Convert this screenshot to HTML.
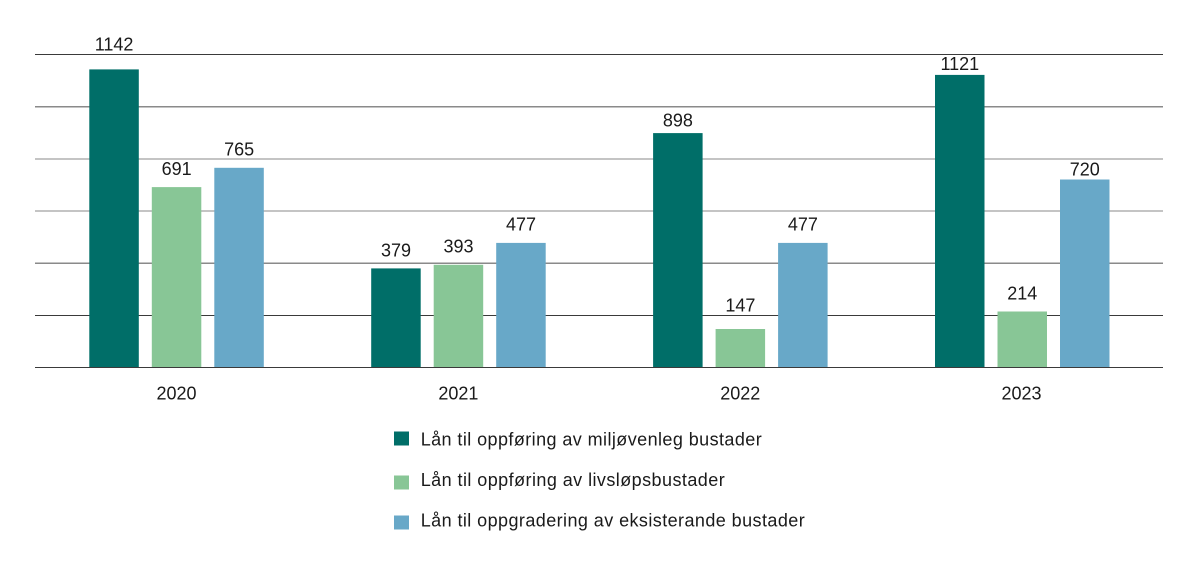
<!DOCTYPE html>
<html>
<head>
<meta charset="utf-8">
<style>
  html, body { margin: 0; padding: 0; background: #ffffff; }
  svg { display: block; }
  text { font-family: "Liberation Sans", "DejaVu Sans", sans-serif; fill: #1a1a1a; }
</style>
</head>
<body>
<svg width="1198" height="568" viewBox="0 0 1198 568" xmlns="http://www.w3.org/2000/svg">
  <rect x="0" y="0" width="1198" height="568" fill="#ffffff"/>
  <!-- gridlines -->
  <g stroke-width="1.2" shape-rendering="crispEdges">
    <line x1="35" y1="54.5" x2="1163" y2="54.5" stroke="#3a3a3a"/>
    <line x1="35" y1="106.7" x2="1163" y2="106.7" stroke="#8a8a8a"/>
    <line x1="35" y1="158.9" x2="1163" y2="158.9" stroke="#8a8a8a"/>
    <line x1="35" y1="211.1" x2="1163" y2="211.1" stroke="#8a8a8a"/>
    <line x1="35" y1="263.3" x2="1163" y2="263.3" stroke="#8a8a8a"/>
    <line x1="35" y1="315.5" x2="1163" y2="315.5" stroke="#3a3a3a"/>
  </g>

  <!-- bars 2020 -->
  <rect x="89.3" y="69.4" width="49.5" height="297.9" fill="#006e68"/>
  <rect x="151.8" y="187.1" width="49.5" height="180.2" fill="#88c696"/>
  <rect x="214.3" y="167.8" width="49.5" height="199.5" fill="#68a8c8"/>
  <!-- bars 2021 -->
  <rect x="371.2" y="268.4" width="49.5" height="98.9" fill="#006e68"/>
  <rect x="433.7" y="264.8" width="49.5" height="102.5" fill="#88c696"/>
  <rect x="496.2" y="242.9" width="49.5" height="124.4" fill="#68a8c8"/>
  <!-- bars 2022 -->
  <rect x="653.1" y="133.1" width="49.5" height="234.2" fill="#006e68"/>
  <rect x="715.6" y="329.0" width="49.5" height="38.3" fill="#88c696"/>
  <rect x="778.1" y="242.9" width="49.5" height="124.4" fill="#68a8c8"/>
  <!-- bars 2023 -->
  <rect x="935.0" y="74.9" width="49.5" height="292.4" fill="#006e68"/>
  <rect x="997.5" y="311.5" width="49.5" height="55.8" fill="#88c696"/>
  <rect x="1060.0" y="179.5" width="49.5" height="187.8" fill="#68a8c8"/>

  <!-- baseline -->
  <line x1="35" y1="367.5" x2="1163" y2="367.5" stroke="#3a3a3a" stroke-width="1.2" shape-rendering="crispEdges"/>

  <!-- value labels -->
  <g font-size="18" text-anchor="middle">
    <text x="114.1" y="50.7">1142</text>
    <text x="176.6" y="175">691</text>
    <text x="239.1" y="155.7">765</text>
    <text x="396.0" y="256.7">379</text>
    <text x="458.5" y="252.7">393</text>
    <text x="521.0" y="230.7">477</text>
    <text x="677.9" y="126.7">898</text>
    <text x="740.4" y="311.7">147</text>
    <text x="802.9" y="230.7">477</text>
    <text x="959.8" y="70">1121</text>
    <text x="1022.3" y="299.3">214</text>
    <text x="1084.8" y="175.7">720</text>
  </g>

  <!-- year labels -->
  <g font-size="18" text-anchor="middle">
    <text x="176.5" y="399.3">2020</text>
    <text x="458.4" y="399.3">2021</text>
    <text x="740.3" y="399.3">2022</text>
    <text x="1021.5" y="399.3">2023</text>
  </g>

  <!-- legend -->
  <rect x="394" y="431.5" width="15" height="14" fill="#006e68"/>
  <rect x="394" y="475.5" width="15" height="14" fill="#88c696"/>
  <rect x="394" y="515.5" width="15" height="14" fill="#68a8c8"/>
  <g font-size="18" style="white-space:pre" xml:space="preserve">
    <text x="420.7" y="445.7" textLength="341" lengthAdjust="spacing">Lån til oppføring av miljøvenleg bustader</text>
    <text x="420.7" y="485.9" textLength="304" lengthAdjust="spacing">Lån  til oppføring av livsløpsbustader</text>
    <text x="420.7" y="526.7" textLength="384" lengthAdjust="spacing">Lån  til oppgradering av eksisterande bustader</text>
  </g>
</svg>
</body>
</html>
